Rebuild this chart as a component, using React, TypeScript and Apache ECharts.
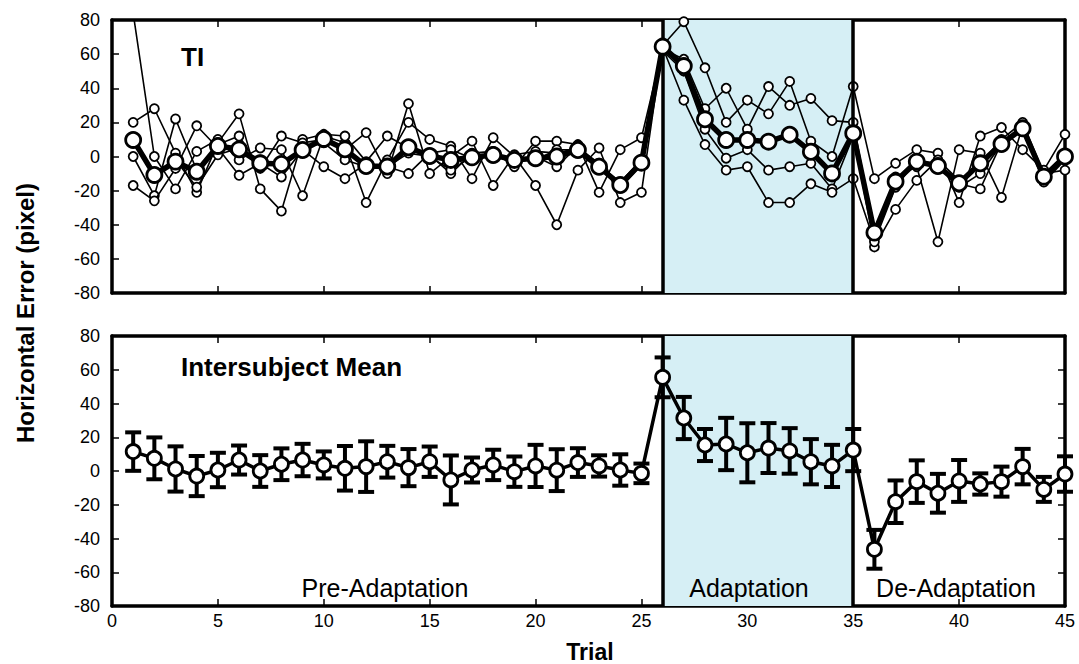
import React, { useEffect, useRef } from "react";
import * as echarts from "echarts";

const trials = [1,2,3,4,5,6,7,8,9,10,11,12,13,14,15,16,17,18,19,20,21,22,23,24,25,26,27,28,29,30,31,32,33,34,35,36,37,38,39,40,41,42,43,44,45];
const xTicks = [0, 5, 10, 15, 20, 25, 30, 35, 40, 45];
const yTicks = [-80, -60, -40, -20, 0, 20, 40, 60, 80];

// Subject TI: individual runs (thin lines)
const runA = [84, 0, -19, 3, 10, -2, 5, 4, -23, 12, 8, -27, -2, 20, 10, 6, -13, 11, 0, -17, -40, -8, 5, -27, -21, 65, 79, 52, 20, 33, 25, 44, 9, 0, 41, -13, -4, 4, 2, -27, 12, 17, 4, -8, 13];
const runB = [20, 28, 2, -21, 8, 25, -19, -32, 10, 13, 12, -3, 12, 5, 1, -10, 2, 3, -6, 9, 9, 7, -21, 4, 11, 63, 57, 28, 40, 16, 41, 30, 34, 21, 20, -45, -12, -6, -50, 4, 2, -24, 18, -12, 0];
const runC = [0, -23, 22, -8, 7, 12, -7, 12, 8, 10, 4, 14, -10, 31, -10, 0, 9, -17, 1, 3, 2, 5, -4, -17, -4, 66, 53, 22, 10, 10, 8, 12, 3, -10, 14, -53, -31, -14, -2, -14, -4, 10, 20, -10, -8];
const runD = [-17, -26, -7, 18, 5, -11, -4, -12, 4, -6, -13, -4, -6, -10, 2, 4, -1, 2, -2, -2, 4, 4, -6, -18, -5, 62, 50, 16, -1, 4, -8, -6, -4, -19, 12, -48, -15, -3, -4, -16, -19, 8, 17, -13, 2];
const runE = [10, -10, -2, -18, 1, 5, -2, -6, 5, 8, -2, -6, -6, 2, 0, -8, 0, 1, -2, 0, -6, 6, -5, -15, -2, 64, 33, 7, -8, -6, -27, -27, -16, -21, -13, -50, -18, -2, -6, -18, -10, 7, 16, -15, -2];
// Subject TI: mean (thick line)
const tiMean = [9.7, -10.8, -3, -8.9, 6.2, 4.2, -4, -4.4, 3.8, 10.3, 4.2, -5.6, -5.9, 5.4, 0.3, -2, -0.5, 0.9, -2, -1, 0, 3.8, -6, -16.7, -3.6, 64.4, 53, 21.8, 9.7, 9.7, 8.7, 12.8, 2.8, -9.9, 13.6, -44.6, -14.7, -3, -5.6, -15.7, -4, 7.3, 16.5, -11.8, 0];

// Intersubject mean and SD
const groupMean = [11.5, 7.5, 1.2, -3, 0.6, 6.5, 0, 4, 6.5, 3.6, 1.6, 2.6, 5.5, 2, 5.5, -5.3, 0.6, 3.6, -0.4, 3, 0.5, 5, 3, 0.6, -1.4, 55.5, 31.4, 15.4, 16, 10.8, 13.6, 11.9, 5.5, 3, 12.4, -46.4, -18.2, -6.3, -13.2, -5.9, -7.7, -6.3, 2.6, -10.9, -1.8];
const groupSd = [11.4, 12.4, 13.4, 11.9, 10.2, 8.6, 9.4, 9.4, 9.6, 8, 13.2, 15, 9.4, 11, 9, 14.5, 7.4, 9, 9, 12.5, 12.4, 8.5, 6.3, 9.3, 5.8, 11.8, 12.5, 9.5, 15.5, 17.5, 14.8, 13.5, 13.4, 12.5, 12.5, 11.5, 12.6, 12.6, 11.5, 12.4, 6.3, 8.9, 10.5, 7.4, 10.5];

const adaptStart = 26;
const adaptEnd = 35;
const phaseLabels = ["Pre-Adaptation", "Adaptation", "De-Adaptation"];

const FONT = "'Liberation Sans', Arial, Helvetica, sans-serif";

export default function App() {
  const ref = useRef<HTMLDivElement>(null);
  useEffect(() => {
    if (!ref.current) return;
    const chart = echarts.init(ref.current, null, { renderer: "svg" });

    const grids = [
      { left: 112, right: 14, top: 20, height: 273 },
      { left: 112, right: 14, top: 336, height: 270 },
    ];

    const xAxisBase = (gridIndex: number, position: string, showLabel: boolean) => ({
      type: "value",
      gridIndex,
      position,
      min: 0,
      max: 45,
      interval: 5,
      axisLine: { show: true, onZero: false, lineStyle: { color: "#000", width: 3.5 } },
      axisTick: { show: true, inside: true, length: 7, lineStyle: { color: "#000", width: 1.5 } },
      axisLabel: { show: showLabel, color: "#000", fontSize: 18, fontFamily: FONT, margin: 6 },
      splitLine: { show: false },
    });
    const yAxisBase = (gridIndex: number, position: string, showLabel: boolean, showTick: boolean) => ({
      type: "value",
      gridIndex,
      position,
      min: -80,
      max: 80,
      interval: 20,
      axisLine: { show: true, onZero: false, lineStyle: { color: "#000", width: 3.5 } },
      axisTick: { show: showTick, inside: true, length: 7, lineStyle: { color: "#000", width: 1.5 } },
      axisLabel: { show: showLabel, color: "#000", fontSize: 18, fontFamily: FONT, margin: 12 },
      splitLine: { show: false },
    });

    const thin = (data: number[], idx: number) => ({
      type: "line",
      xAxisIndex: 0,
      yAxisIndex: 0,
      data: trials.map((t, i) => [t, data[i]]),
      symbol: "circle",
      symbolSize: 9,
      lineStyle: { color: "#000", width: 1.6 },
      itemStyle: { color: "#fff", borderColor: "#000", borderWidth: 1.8 },
      z: 3 + idx * 0.01,
      clip: true,
    });

    const shade = (xi: number, yi: number) => ({
      type: "line",
      xAxisIndex: xi,
      yAxisIndex: yi,
      data: [],
      z: 1,
      silent: true,
      markArea: {
        silent: true,
        itemStyle: { color: "#d6eff5" },
        data: [[{ xAxis: adaptStart }, { xAxis: adaptEnd }]],
      },
      markLine: {
        silent: true,
        symbol: ["none", "none"],
        label: { show: false },
        lineStyle: { color: "#000", width: 3.5, type: "solid" },
        data: [{ xAxis: adaptStart }, { xAxis: adaptEnd }],
      },
    });

    const option: any = {
      animation: false,
      backgroundColor: "#fff",
      grid: grids,
      xAxis: [
        xAxisBase(0, "bottom", false),
        xAxisBase(0, "top", false),
        xAxisBase(1, "bottom", true),
        xAxisBase(1, "top", false),
      ],
      yAxis: [
        yAxisBase(0, "left", true, true),
        yAxisBase(0, "right", false, false),
        yAxisBase(1, "left", true, true),
        yAxisBase(1, "right", false, true),
      ],
      series: [
        shade(0, 0),
        shade(2, 2),
        thin(runA, 0),
        thin(runB, 1),
        thin(runC, 2),
        thin(runD, 3),
        thin(runE, 4),
        {
          type: "line",
          xAxisIndex: 0,
          yAxisIndex: 0,
          data: trials.map((t, i) => [t, tiMean[i]]),
          symbol: "circle",
          symbolSize: 15,
          lineStyle: { color: "#000", width: 5.5 },
          itemStyle: { color: "#fff", borderColor: "#000", borderWidth: 2.8 },
          z: 5,
        },
        {
          type: "custom",
          xAxisIndex: 2,
          yAxisIndex: 2,
          z: 4,
          data: trials.map((t, i) => [t, groupMean[i] - groupSd[i], groupMean[i] + groupSd[i]]),
          encode: { x: 0, y: [1, 2] },
          renderItem: (params: any, api: any) => {
            const x = api.value(0);
            const pLo = api.coord([x, api.value(1)]);
            const pHi = api.coord([x, api.value(2)]);
            const hw = 8;
            const st = { stroke: "#000", lineWidth: 4 };
            return {
              type: "group",
              children: [
                { type: "line", shape: { x1: pHi[0], y1: pHi[1], x2: pLo[0], y2: pLo[1] }, style: st },
                { type: "line", shape: { x1: pHi[0] - hw, y1: pHi[1], x2: pHi[0] + hw, y2: pHi[1] }, style: st },
                { type: "line", shape: { x1: pLo[0] - hw, y1: pLo[1], x2: pLo[0] + hw, y2: pLo[1] }, style: st },
              ],
            };
          },
        },
        {
          type: "line",
          xAxisIndex: 2,
          yAxisIndex: 2,
          data: trials.map((t, i) => [t, groupMean[i]]),
          symbol: "circle",
          symbolSize: 14,
          lineStyle: { color: "#000", width: 3.5 },
          itemStyle: { color: "#fff", borderColor: "#000", borderWidth: 2.8 },
          z: 6,
        },
      ],
      graphic: [
        {
          type: "text",
          left: 181,
          top: 44,
          style: { text: "TI", font: `bold 26px ${FONT}`, fill: "#000" },
          z: 10,
        },
        {
          type: "text",
          left: 181,
          top: 354,
          style: { text: "Intersubject Mean", font: `bold 26px ${FONT}`, fill: "#000" },
          z: 10,
        },
        {
          type: "text",
          x: 385,
          y: 588,
          style: { text: phaseLabels[0], font: `25px ${FONT}`, fill: "#000", align: "center", verticalAlign: "middle" },
          z: 10,
        },
        {
          type: "text",
          x: 749,
          y: 588,
          style: { text: phaseLabels[1], font: `25px ${FONT}`, fill: "#000", align: "center", verticalAlign: "middle" },
          z: 10,
        },
        {
          type: "text",
          x: 956,
          y: 588,
          style: { text: phaseLabels[2], font: `25px ${FONT}`, fill: "#000", align: "center", verticalAlign: "middle" },
          z: 10,
        },
        {
          type: "text",
          x: 590,
          y: 652,
          style: { text: "Trial", font: `bold 23px ${FONT}`, fill: "#000", align: "center", verticalAlign: "middle" },
          z: 10,
        },
        {
          type: "text",
          x: 25,
          y: 313,
          rotation: Math.PI / 2,
          style: { text: "Horizontal Error (pixel)", font: `bold 24px ${FONT}`, fill: "#000", align: "center", verticalAlign: "middle" },
          z: 10,
        },
      ],
    };
    chart.setOption(option);
    return () => chart.dispose();
  }, []);
  return <div ref={ref} style={{ position: "fixed", left: 0, top: 0, width: 1079, height: 664 }} />;
}
